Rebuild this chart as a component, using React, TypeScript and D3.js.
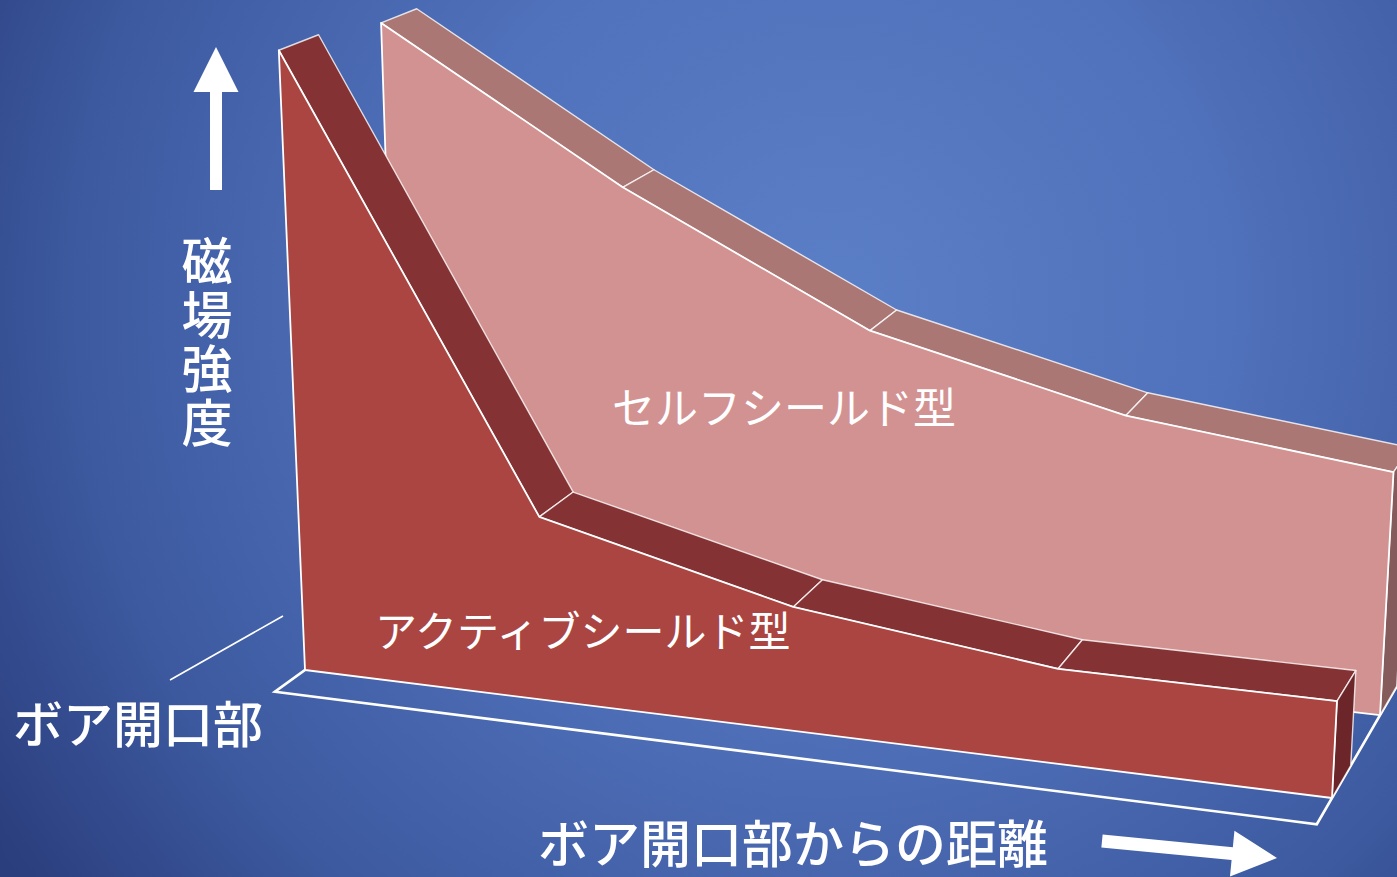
import React from 'react';
import * as d3 from 'd3';

// ---------- data ----------
const categories = ['d0', 'd1', 'd2', 'd3', 'd4'];
const activeShield = [100, 30, 20, 15, 15];
const selfShield = [98, 74, 54, 44, 39];
const seriesNames = ['アクティブシールド型', 'セルフシールド型'];
const yAxisTitle = '磁場強度';
const xAxisTitle = 'ボア開口部からの距離';
const originLabel = 'ボア開口部';

// ---------- layout ----------
const W = 1397;
const H = 877;
const FONT = "'Noto Sans CJK JP', 'Noto Sans', sans-serif";

// perspective camera (homogeneous columns: origin, x-axis, y-axis, depth-axis)
const O = [305, 670, 1];
const AX = [901, 52.5, -0.0946];
const AY = [-41.02, -622.4, -0.0532];
const AZ = [44, -14, 0.02];

function project(x: number, y: number, z: number): [number, number] {
  const hx = O[0] + x * AX[0] + y * AY[0] + z * AZ[0];
  const hy = O[1] + x * AX[1] + y * AY[1] + z * AZ[1];
  const hw = O[2] + x * AX[2] + y * AY[2] + z * AZ[2];
  return [hx / hw, hy / hw];
}

const xScale = d3.scalePoint<string>().domain(categories).range([0, 1]);
const yScale = d3.scaleLinear().domain([0, 100]).range([0, 1]);
const depth = { active: [0, 1], self: [2.65, 3.65], floor: [-0.78, 4.43] };

const poly = d3.line<[number, number]>().curve(d3.curveLinearClosed);

type RibbonProps = {
  values: number[];
  z0: number;
  z1: number;
  front: string;
  top: string;
  side: string;
};

function Ribbon({ values, z0, z1, front, top, side }: RibbonProps) {
  const pts = categories.map((c, i) => ({ x: xScale(c) as number, y: yScale(values[i]) }));
  const last = pts[pts.length - 1];
  const first = pts[0];
  const frontPoly: [number, number][] = [
    ...pts.map((p) => project(p.x, p.y, z0)),
    project(last.x, 0, z0),
    project(first.x, 0, z0),
  ];
  const tops = pts.slice(0, -1).map((p, i) => {
    const q = pts[i + 1];
    return [
      project(p.x, p.y, z0),
      project(q.x, q.y, z0),
      project(q.x, q.y, z1),
      project(p.x, p.y, z1),
    ] as [number, number][];
  });
  const endPoly: [number, number][] = [
    project(last.x, 0, z0),
    project(last.x, last.y, z0),
    project(last.x, last.y, z1),
    project(last.x, 0, z1),
  ];
  return (
    <g>
      {tops.map((t, i) => (
        <path key={i} d={poly(t) || ''} fill={top} stroke="rgba(255,255,255,0.8)" strokeWidth={1.4} strokeLinejoin="round" />
      ))}
      <path d={poly(endPoly) || ''} fill={side} stroke="rgba(255,255,255,0.8)" strokeWidth={1.4} strokeLinejoin="round" />
      <path d={poly(frontPoly) || ''} fill={front} stroke="#ffffff" strokeWidth={1.8} strokeLinejoin="round" />
    </g>
  );
}

function arrowPoly(x1: number, y1: number, x2: number, y2: number, shaft: number, headLen: number, headW: number) {
  const dx = x2 - x1;
  const dy = y2 - y1;
  const len = Math.hypot(dx, dy);
  const ux = dx / len;
  const uy = dy / len;
  const nx = -uy;
  const ny = ux;
  const bx = x2 - ux * headLen;
  const by = y2 - uy * headLen;
  const p = (x: number, y: number, n: number) => [x + nx * n, y + ny * n] as [number, number];
  return [
    p(x1, y1, shaft / 2),
    p(bx, by, shaft / 2),
    p(bx, by, headW / 2),
    [x2, y2] as [number, number],
    p(bx, by, -headW / 2),
    p(bx, by, -shaft / 2),
    p(x1, y1, -shaft / 2),
  ];
}

export default function App() {
  const [f0, f1] = depth.floor;
  const floorPoly: [number, number][] = [
    project(0, 0, f0),
    project(1, 0, f0),
    project(1, 0, f1),
    project(0, 0, f1),
  ];
  const upArrow = arrowPoly(216, 190, 216, 47, 12, 45, 45);
  const rightArrow = arrowPoly(1102, 841, 1277, 858, 13, 45, 46);
  return (
    <svg width={W} height={H} style={{ position: 'absolute', left: 0, top: 0, display: 'block' }}>
      <defs>
        <radialGradient id="bg" gradientUnits="userSpaceOnUse" cx={830} cy={300} r={1000}>
          <stop offset="0" stopColor="#5b7fc7" />
          <stop offset="0.4" stopColor="#5071bb" />
          <stop offset="0.75" stopColor="#3d5aa0" />
          <stop offset="1" stopColor="#2a3d7c" />
        </radialGradient>
      </defs>
      <rect x={0} y={0} width={W} height={H} fill="url(#bg)" />

      {/* floor */}
      <path d={poly(floorPoly) || ''} fill="none" stroke="#ffffff" strokeWidth={2.6} strokeLinejoin="miter" />

      {/* series: back to front */}
      <Ribbon values={selfShield} z0={depth.self[0]} z1={depth.self[1]} front="#d39292" top="#ab7775" side="#855b5b" />
      <Ribbon values={activeShield} z0={depth.active[0]} z1={depth.active[1]} front="#aa4542" top="#853234" side="#6c2629" />

      {/* series labels */}
      <text x={612} y={405} fontFamily={FONT} fontSize={43} fill="#ffffff" dominantBaseline="central">
        {seriesNames[1]}
      </text>
      <text x={375} y={628} fontFamily={FONT} fontSize={42} fill="#ffffff" dominantBaseline="central">
        {seriesNames[0]}
      </text>

      {/* axis titles */}
      <path d={poly(upArrow) || ''} fill="#ffffff" />
      <text
        x={207}
        y={235}
        fontFamily={FONT}
        fontSize={51}
        fontWeight={500}
        fill="#ffffff"
        style={{ writingMode: 'vertical-rl', letterSpacing: '3px' }}
      >
        {yAxisTitle}
      </text>
      <text x={538} y={841} fontFamily={FONT} fontSize={51} fontWeight={500} fill="#ffffff" dominantBaseline="central">
        {xAxisTitle}
      </text>
      <path d={poly(rightArrow) || ''} fill="#ffffff" />

      <line x1={170} y1={680} x2={283} y2={616} stroke="#ffffff" strokeWidth={1.6} />
      <text x={13} y={721} fontFamily={FONT} fontSize={50} fontWeight={500} fill="#ffffff" dominantBaseline="central">
        {originLabel}
      </text>
    </svg>
  );
}
